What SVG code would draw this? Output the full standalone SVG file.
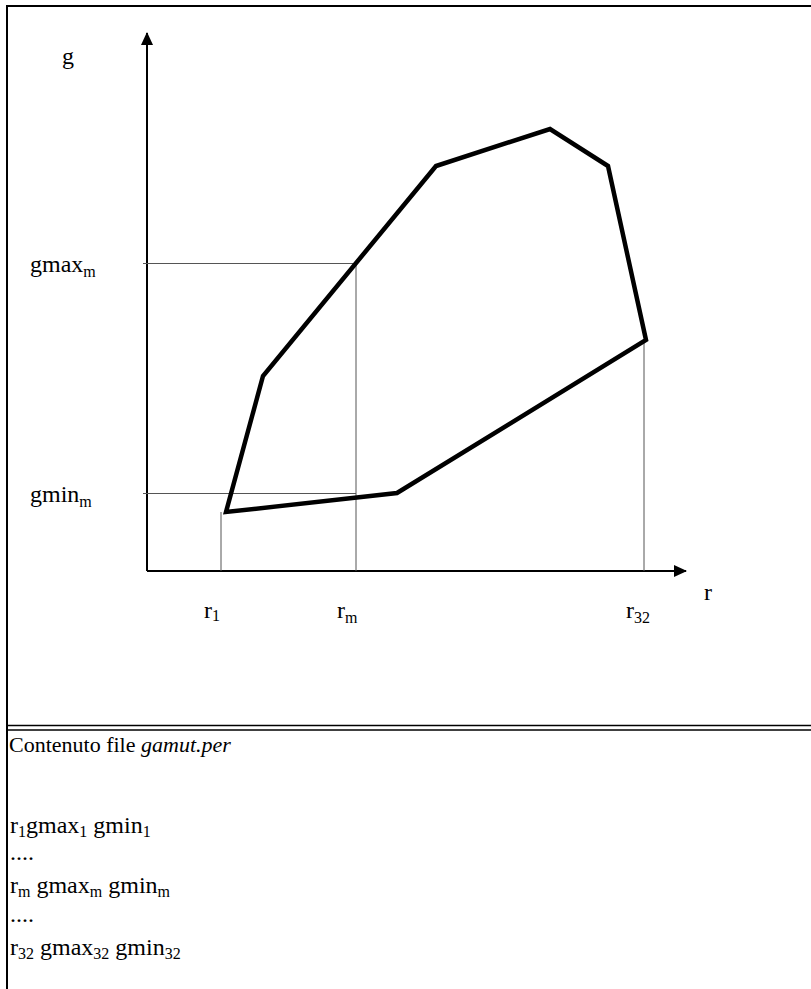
<svg xmlns="http://www.w3.org/2000/svg" width="811" height="989" viewBox="0 0 811 989">
<style>
text{font-family:"Liberation Serif","Times New Roman","DejaVu Serif",serif;fill:#000}
.lab{font-size:24px}
.sub{font-size:16px}
.grey{stroke:#555;stroke-width:1;fill:none}
.axis{stroke:#000;stroke-width:2;fill:none}
</style>
<defs>
<marker id="ah" markerWidth="13" markerHeight="12" refX="12" refY="6" orient="auto" markerUnits="userSpaceOnUse">
<path d="M0,0 L13,6 L0,12 Z" fill="#000"/>
</marker>
</defs>
<rect width="811" height="989" fill="#fff"/>
<g id="frame">
<path d="M7,989 V6 H811" fill="none" stroke="#000" stroke-width="2"/>
<line x1="7" y1="725.5" x2="811" y2="725.5" stroke="#000" stroke-width="1.5"/>
<line x1="7" y1="730" x2="811" y2="730" stroke="#000" stroke-width="1.5"/>
</g>
<g id="connectors">
<line class="axis" x1="147" y1="571" x2="147" y2="33" marker-end="url(#ah)"/>
<line class="axis" x1="147" y1="571" x2="686" y2="571" marker-end="url(#ah)"/>
<line class="grey" x1="143" y1="263.5" x2="356" y2="263.5"/>
<line class="grey" x1="143" y1="493.5" x2="356" y2="493.5"/>
<line class="grey" x1="221" y1="512" x2="221" y2="571"/>
<line class="grey" x1="356" y1="263" x2="356" y2="571"/>
<line class="grey" x1="644" y1="340" x2="644" y2="571"/>
</g>
<g id="gamut">
<polygon points="226,512 263,376 436,166 550,129 608,166 646,340 397,493" fill="none" stroke="#000" stroke-width="4.5" stroke-linejoin="miter"/>
</g>
<g id="labels">
<text class="lab" x="62" y="64">g</text>
<text class="lab" x="30" y="272">gmax<tspan class="sub" dy="5">m</tspan></text>
<text class="lab" x="30" y="502">gmin<tspan class="sub" dy="5">m</tspan></text>
<text class="lab" x="704" y="600">r</text>
<text class="lab" x="204" y="618">r<tspan class="sub" dy="3">1</tspan></text>
<text class="lab" x="337" y="618">r<tspan class="sub" dy="5">m</tspan></text>
<text class="lab" x="626" y="618">r<tspan class="sub" dy="5">32</tspan></text>
</g>
<g id="file">
<text x="9" y="752" font-size="22">Contenuto file</text>
<text x="141" y="752" font-size="22" font-style="italic">gamut.per</text>
<text class="lab" x="10" y="833">r<tspan class="sub" dy="4">1</tspan><tspan dy="-4">gmax</tspan><tspan class="sub" dy="4">1</tspan><tspan dy="-4"> gmin</tspan><tspan class="sub" dy="4">1</tspan></text>
<text class="lab" x="10" y="860">....</text>
<text class="lab" x="10" y="893">r<tspan class="sub" dy="4">m</tspan><tspan dy="-4"> gmax</tspan><tspan class="sub" dy="4">m</tspan><tspan dy="-4"> gmin</tspan><tspan class="sub" dy="4">m</tspan></text>
<text class="lab" x="10" y="922">....</text>
<text class="lab" x="10" y="955">r<tspan class="sub" dy="4">32</tspan><tspan dy="-4"> gmax</tspan><tspan class="sub" dy="4">32</tspan><tspan dy="-4"> gmin</tspan><tspan class="sub" dy="4">32</tspan></text>
</g>
</svg>
